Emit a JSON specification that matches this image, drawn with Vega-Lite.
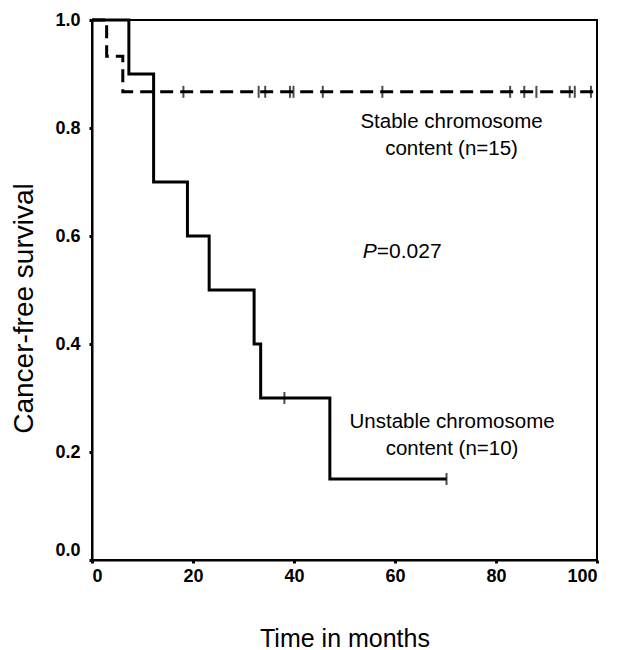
{
  "$schema": "https://vega.github.io/schema/vega-lite/v6.json",
  "width": 505,
  "height": 540,
  "autosize": {"type": "none"},
  "padding": {"left": 92, "top": 20, "right": 22, "bottom": 90},
  "background": "white",
  "config": {
    "view": {"stroke": "black", "strokeWidth": 2},
    "font": "Liberation Sans",
    "axis": {
      "domainColor": "black",
      "domainWidth": 2,
      "tickColor": "black",
      "tickWidth": 3,
      "tickSize": 3,
      "grid": false,
      "labelColor": "black",
      "labelFontSize": 18,
      "labelFontWeight": "bold",
      "titleColor": "black",
      "titleFontWeight": "normal"
    }
  },
  "datasets": {
    "curves": [
      {"group": "unstable", "time": 0, "survival": 1},
      {"group": "unstable", "time": 7.3, "survival": 0.9},
      {"group": "unstable", "time": 12.2, "survival": 0.7},
      {"group": "unstable", "time": 18.9, "survival": 0.6},
      {"group": "unstable", "time": 23.2, "survival": 0.5},
      {"group": "unstable", "time": 32.1, "survival": 0.4},
      {"group": "unstable", "time": 33.4, "survival": 0.3},
      {"group": "unstable", "time": 47.1, "survival": 0.15},
      {"group": "unstable", "time": 70.2, "survival": 0.15},
      {"group": "stable", "time": 0, "survival": 1},
      {"group": "stable", "time": 2.9, "survival": 0.933},
      {"group": "stable", "time": 6.1, "survival": 0.867},
      {"group": "stable", "time": 100, "survival": 0.867}
    ],
    "censored": [
      {"group": "unstable", "time": 38.1, "survival": 0.3},
      {"group": "unstable", "time": 70.2, "survival": 0.15},
      {"group": "stable", "time": 18.1, "survival": 0.867},
      {"group": "stable", "time": 33.0, "survival": 0.867},
      {"group": "stable", "time": 34.3, "survival": 0.867},
      {"group": "stable", "time": 39.2, "survival": 0.867},
      {"group": "stable", "time": 39.9, "survival": 0.867},
      {"group": "stable", "time": 45.7, "survival": 0.867},
      {"group": "stable", "time": 57.5, "survival": 0.867},
      {"group": "stable", "time": 82.8, "survival": 0.867},
      {"group": "stable", "time": 85.6, "survival": 0.867},
      {"group": "stable", "time": 88.0, "survival": 0.867},
      {"group": "stable", "time": 94.6, "survival": 0.867},
      {"group": "stable", "time": 95.6, "survival": 0.867},
      {"group": "stable", "time": 98.8, "survival": 0.867}
    ],
    "labels": [
      {"group": "stable", "time": 71.2, "survival": 0.811, "line1": "Stable chromosome", "line2": "content (n=15)"},
      {"group": "unstable", "time": 71.3, "survival": 0.256, "line1": "Unstable chromosome", "line2": "content (n=10)"}
    ],
    "pvalue": [
      {"time": 56.4, "survival": 0.57, "p": "P", "rest": "=0.027"}
    ]
  },
  "encoding": {
    "x": {
      "field": "time",
      "type": "quantitative",
      "title": "Time in months",
      "scale": {"domain": [0, 100], "nice": false},
      "axis": {
        "values": [0, 20, 40, 60, 80, 100],
        "labelPadding": 4,
        "titleFontSize": 25,
        "titleY": 86,
        "titleBaseline": "alphabetic"
      }
    },
    "y": {
      "field": "survival",
      "type": "quantitative",
      "title": "Cancer-free survival",
      "scale": {"domain": [0, 1], "nice": false},
      "axis": {
        "values": [0, 0.2, 0.4, 0.6, 0.8, 1],
        "format": ".1f",
        "labelPadding": 9,
        "labelOffset": {"condition": {"test": "datum.value == 0", "value": -10}, "value": 0},
        "titleFontSize": 28,
        "titleX": -60,
        "titleY": 288,
        "titleBaseline": "alphabetic"
      }
    }
  },
  "layer": [
    {
      "data": {"name": "curves"},
      "transform": [{"filter": "datum.group == 'unstable'"}],
      "mark": {"type": "line", "interpolate": "step-after", "color": "black", "strokeWidth": 3}
    },
    {
      "data": {"name": "curves"},
      "transform": [{"filter": "datum.group == 'stable'"}],
      "mark": {"type": "line", "interpolate": "step-after", "color": "black", "strokeWidth": 3, "strokeDash": [13, 7]}
    },
    {
      "data": {"name": "censored"},
      "mark": {"type": "tick", "orient": "vertical", "color": "black", "size": 12, "thickness": 2}
    },
    {
      "data": {"name": "labels"},
      "mark": {"type": "text", "fontSize": 20.5, "align": "center", "baseline": "middle", "color": "black"},
      "encoding": {"text": {"field": "line1"}}
    },
    {
      "data": {"name": "labels"},
      "mark": {"type": "text", "fontSize": 20.5, "align": "center", "baseline": "middle", "dy": 27, "color": "black"},
      "encoding": {"text": {"field": "line2"}}
    },
    {
      "data": {"name": "pvalue"},
      "mark": {"type": "text", "fontSize": 21, "align": "right", "baseline": "middle", "fontStyle": "italic", "color": "black"},
      "encoding": {"text": {"field": "p"}}
    },
    {
      "data": {"name": "pvalue"},
      "mark": {"type": "text", "fontSize": 21, "align": "left", "baseline": "middle", "color": "black"},
      "encoding": {"text": {"field": "rest"}}
    }
  ]
}
